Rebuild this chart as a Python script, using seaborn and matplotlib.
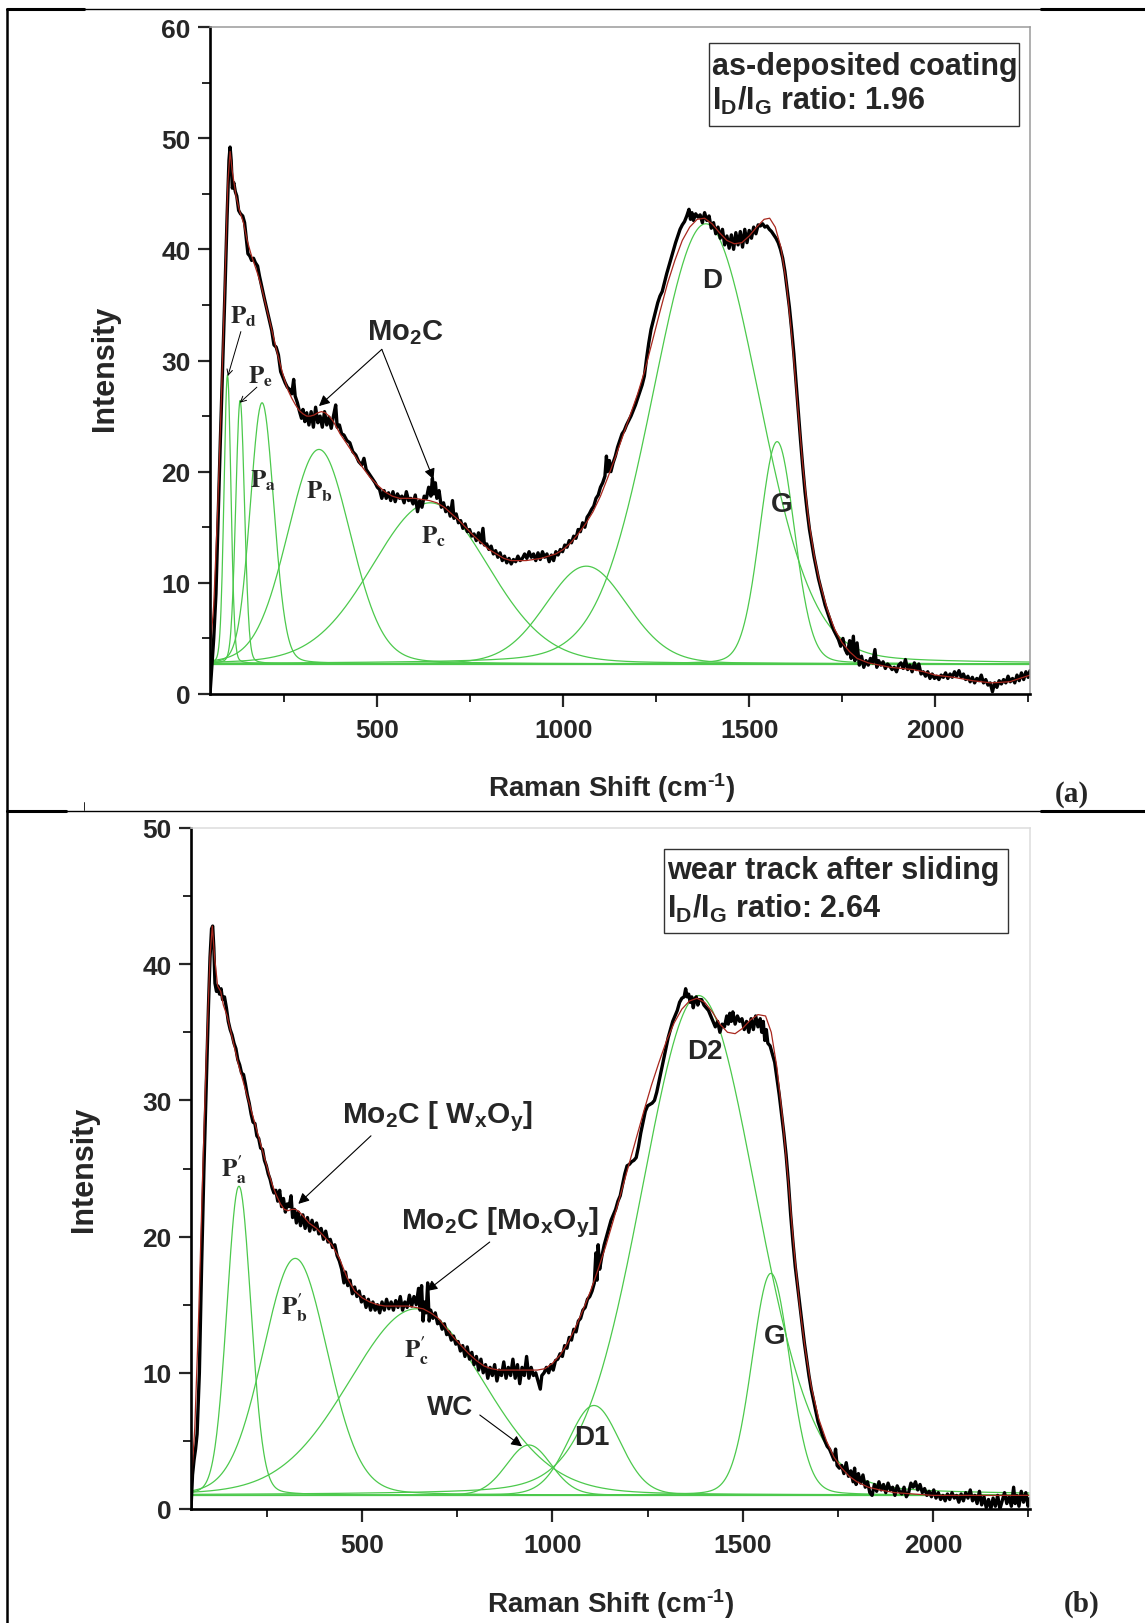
"""Raman spectra with peak deconvolution: as-deposited coating (a) and wear track (b)."""
import matplotlib
matplotlib.use("Agg")
import matplotlib.pyplot as plt
from matplotlib.lines import Line2D
from matplotlib.patches import Rectangle
import numpy as np
import seaborn as sns

FIG_W, FIG_H = 1145, 1624

# ---------------------------------------------------------------- data (a)
spectrum_a = [
    (50, 0.0), (55, 2.5), (60, 5.0), (66, 9.0), (72, 16.0), (78, 23.0), (84, 29.5),
    (90, 36.0), (96, 43.0), (101, 48.0), (104, 49.2), (107, 48.0), (110, 45.5),
    (114, 46.0), (118, 45.2), (122, 44.8), (127, 43.5), (132, 43.2), (138, 43.0),
    (143, 42.4), (148, 40.8), (152, 39.6), (157, 39.4), (162, 39.0), (167, 39.2),
    (172, 38.8), (178, 38.5), (183, 37.6), (190, 36.5), (196, 35.6), (203, 34.6),
    (210, 33.6), (216, 32.7), (222, 31.4), (228, 31.2), (234, 30.5), (240, 29.0),
    (246, 28.5), (252, 28.0), (258, 27.6), (264, 27.4), (270, 27.0), (275, 28.3),
    (279, 26.8), (285, 26.2), (290, 25.5), (296, 24.8), (300, 25.6), (305, 24.5),
    (310, 25.3), (316, 24.2), (322, 25.4), (328, 24.0), (334, 25.8), (340, 24.4),
    (346, 25.0), (352, 24.0), (358, 25.4), (364, 24.2), (370, 24.9), (376, 23.9),
    (382, 25.0), (388, 26.0), (392, 24.0), (398, 24.2), (404, 23.4), (410, 23.3),
    (418, 22.8), (426, 22.6), (434, 21.8), (442, 21.5), (450, 20.9), (458, 20.6),
    (464, 21.2), (470, 20.2), (478, 19.8), (486, 19.4), (494, 19.0), (500, 18.6),
    (506, 18.4), (512, 17.6), (518, 18.3), (524, 17.6), (530, 18.1), (536, 17.4),
    (542, 18.2), (548, 17.3), (554, 18.0), (560, 17.6), (566, 17.8), (572, 17.2),
    (578, 18.2), (584, 17.4), (590, 17.6), (596, 17.1), (602, 17.9), (608, 16.4),
    (614, 17.4), (620, 16.8), (626, 17.8), (632, 17.6), (638, 18.6), (644, 17.8),
    (648, 19.4), (652, 18.0), (656, 19.0), (660, 17.6), (666, 18.3), (672, 16.8),
    (678, 17.2), (684, 16.4), (690, 16.8), (696, 16.0), (702, 17.4), (706, 15.8),
    (712, 16.2), (718, 15.4), (724, 15.6), (730, 14.9), (736, 15.3), (742, 14.6),
    (748, 14.8), (754, 14.2), (760, 14.4), (766, 13.8), (772, 14.5), (778, 13.6),
    (784, 14.9), (788, 13.4), (794, 13.5), (800, 13.0), (806, 13.3), (812, 12.6),
    (818, 12.9), (824, 12.3), (830, 12.7), (836, 12.0), (842, 12.4), (848, 11.8),
    (854, 12.2), (860, 11.7), (866, 12.1), (872, 11.9), (878, 12.4), (884, 12.0),
    (890, 12.2), (896, 12.6), (902, 12.2), (908, 12.8), (914, 12.3), (920, 12.6),
    (926, 12.0), (932, 12.7), (938, 12.1), (944, 12.8), (950, 12.3), (956, 12.6),
    (962, 11.9), (968, 12.5), (974, 12.0), (980, 12.8), (986, 12.5), (992, 13.0),
    (998, 12.8), (1004, 13.4), (1010, 13.2), (1016, 13.8), (1022, 13.6), (1028, 14.2),
    (1034, 14.0), (1040, 14.8), (1046, 14.6), (1052, 15.4), (1058, 15.0), (1064, 15.9),
    (1070, 16.2), (1076, 16.6), (1082, 16.9), (1088, 17.6), (1094, 17.9), (1100, 18.6),
    (1106, 19.0), (1112, 19.6), (1116, 21.4), (1119, 20.0), (1124, 21.0), (1128, 20.0),
    (1134, 20.8), (1140, 21.4), (1146, 22.2), (1152, 22.8), (1158, 23.4), (1164, 23.7),
    (1170, 24.2), (1176, 24.6), (1182, 25.0), (1188, 25.5), (1194, 26.0), (1200, 26.6),
    (1206, 27.2), (1212, 27.8), (1218, 28.6), (1224, 30.2), (1230, 31.6), (1236, 32.8),
    (1242, 33.6), (1248, 34.4), (1254, 35.2), (1260, 35.8), (1266, 36.2), (1272, 37.0),
    (1278, 37.8), (1284, 38.5), (1290, 39.2), (1296, 39.9), (1302, 40.6), (1308, 41.2),
    (1314, 41.8), (1320, 42.2), (1326, 42.5), (1332, 43.0), (1338, 43.6), (1342, 42.7),
    (1346, 43.3), (1350, 42.6), (1356, 43.2), (1362, 42.9), (1368, 43.1), (1374, 42.4),
    (1380, 43.3), (1386, 42.6), (1392, 43.0), (1398, 41.9), (1404, 42.4), (1410, 41.4),
    (1416, 42.0), (1422, 41.0), (1428, 41.8), (1434, 40.4), (1440, 41.2), (1446, 40.1),
    (1452, 41.3), (1458, 40.0), (1464, 41.5), (1470, 40.4), (1476, 41.6), (1482, 40.2),
    (1488, 41.8), (1494, 40.6), (1500, 41.7), (1506, 41.0), (1512, 42.0), (1518, 41.4),
    (1524, 42.2), (1530, 42.1), (1536, 42.3), (1542, 42.0), (1548, 42.1), (1554, 41.8),
    (1560, 41.6), (1566, 41.3), (1572, 41.0), (1578, 40.6), (1584, 40.0), (1590, 39.2),
    (1596, 38.0), (1602, 36.4), (1608, 34.8), (1614, 32.8), (1620, 30.6), (1626, 28.0),
    (1632, 25.4), (1638, 22.8), (1644, 20.4), (1650, 18.2), (1656, 16.4), (1662, 14.8),
    (1668, 13.6), (1674, 12.4), (1680, 11.4), (1686, 10.4), (1692, 9.6), (1698, 8.8),
    (1704, 8.0), (1710, 7.4), (1716, 6.8), (1722, 6.2), (1728, 5.7), (1734, 5.3),
    (1740, 4.9), (1746, 4.3), (1752, 5.0), (1758, 4.0), (1764, 3.6), (1770, 4.8),
    (1774, 3.2), (1780, 5.2), (1784, 3.0), (1790, 4.6), (1796, 2.6), (1802, 3.4),
    (1808, 2.4), (1814, 3.0), (1820, 2.6), (1826, 3.2), (1832, 2.8), (1838, 4.0),
    (1843, 2.4), (1848, 3.0), (1854, 2.6), (1860, 2.9), (1866, 2.3), (1872, 2.7),
    (1878, 2.5), (1884, 2.2), (1890, 2.4), (1896, 2.0), (1902, 2.6), (1908, 2.8),
    (1914, 2.3), (1920, 3.1), (1926, 2.2), (1932, 2.6), (1938, 2.0), (1944, 2.8),
    (1950, 2.2), (1956, 2.7), (1962, 1.8), (1968, 2.0), (1974, 1.6), (1980, 2.0),
    (1986, 1.4), (1992, 1.8), (1998, 1.4), (2004, 1.6), (2010, 1.3), (2016, 1.7),
    (2022, 1.5), (2028, 1.9), (2034, 1.4), (2040, 1.8), (2046, 1.5), (2052, 2.0),
    (2058, 1.6), (2064, 2.1), (2070, 1.5), (2076, 1.8), (2082, 1.3), (2088, 1.6),
    (2094, 1.1), (2100, 1.5), (2106, 1.0), (2112, 1.4), (2118, 1.2), (2124, 1.7),
    (2130, 1.0), (2136, 1.3), (2142, 0.8), (2148, 1.0), (2154, 0.2), (2160, 1.0),
    (2166, 0.6), (2172, 1.2), (2178, 0.9), (2184, 1.3), (2190, 1.0), (2196, 1.6),
    (2202, 1.1), (2208, 1.4), (2214, 1.0), (2220, 1.7), (2226, 1.2), (2232, 1.9),
    (2238, 1.3), (2244, 2.0), (2250, 1.5), (2255, 2.1),
]

# cumulative fit curve (red)
fit_a = [
    (50, 3.7), (60, 8.0), (70, 16.0), (80, 26.0), (90, 37.0), (98, 46.0), (104, 48.8),
    (110, 47.0), (120, 44.8), (130, 43.4), (140, 42.4), (150, 40.8), (160, 39.6),
    (170, 38.6), (180, 37.6), (190, 36.4), (200, 35.0), (210, 33.6), (220, 32.2),
    (230, 30.8), (240, 29.5), (250, 28.3), (260, 27.3), (270, 26.6), (280, 26.0),
    (290, 25.5), (300, 25.2), (310, 25.0), (320, 25.0), (330, 25.1), (340, 25.3),
    (350, 25.4), (360, 25.3), (370, 25.0), (380, 24.6), (390, 24.0), (400, 23.4),
    (420, 22.4), (440, 21.4), (460, 20.4), (480, 19.5), (500, 18.8), (520, 18.2),
    (540, 17.8), (560, 17.6), (580, 17.6), (600, 17.6), (620, 17.5), (640, 17.4),
    (660, 17.2), (680, 16.8), (700, 16.2), (720, 15.6), (740, 14.9), (760, 14.2),
    (780, 13.6), (800, 13.0), (820, 12.6), (840, 12.2), (860, 12.0), (880, 12.0),
    (900, 12.0), (920, 12.1), (940, 12.2), (960, 12.4), (980, 12.6), (1000, 13.0),
    (1020, 13.6), (1040, 14.4), (1060, 15.3), (1080, 16.4), (1100, 17.8), (1120, 19.5),
    (1140, 21.3), (1160, 23.2), (1180, 25.1), (1200, 27.0), (1220, 29.2), (1240, 31.8),
    (1260, 34.4), (1280, 36.9), (1300, 39.0), (1320, 40.8), (1340, 42.0), (1360, 42.7),
    (1380, 42.8), (1400, 42.3), (1420, 41.5), (1440, 40.8), (1460, 40.5), (1480, 40.6),
    (1500, 41.2), (1520, 42.0), (1540, 42.7), (1555, 42.8), (1570, 42.0), (1585, 40.2),
    (1600, 37.0), (1615, 32.0), (1630, 26.0), (1645, 20.2), (1660, 15.6), (1675, 12.4),
    (1690, 10.0), (1710, 7.6), (1730, 5.8), (1750, 4.6), (1770, 3.8), (1790, 3.2),
    (1820, 2.8), (1850, 2.6), (1880, 2.4), (1910, 2.3), (1940, 2.2), (1970, 2.0),
    (2000, 1.7), (2050, 1.5), (2100, 1.2), (2150, 1.0), (2200, 1.1), (2255, 1.7),
]

# fitted components: centre (cm-1), height above baseline, FWHM (cm-1)
peak_centres_a = [97, 131, 190, 343, 642, 1062, 1383, 1575]
peak_heights_a = [26.0, 23.7, 23.5, 19.3, 14.5, 8.8, 39.6, 20.0]
peak_widths_a = [22, 28, 75, 200, 370, 260, 340, 110]
baseline_a = 2.7

# ---------------------------------------------------------------- data (b)
spectrum_b = [
    (50, 0.0), (54, 2.5), (58, 3.6), (62, 4.4), (66, 5.5), (72, 10.0), (78, 18.0),
    (84, 25.0), (90, 31.0), (96, 37.0), (100, 40.5), (104, 42.6), (107, 42.8),
    (110, 41.2), (113, 38.6), (117, 38.0), (121, 38.4), (125, 37.8), (129, 38.2),
    (133, 37.4), (138, 37.6), (143, 36.8), (148, 35.8), (153, 35.2), (158, 34.8),
    (163, 34.2), (168, 33.8), (173, 33.0), (178, 32.6), (183, 32.0), (188, 31.9),
    (193, 31.2), (198, 30.4), (203, 29.8), (208, 29.0), (213, 28.4), (218, 28.3),
    (223, 27.4), (228, 27.2), (233, 26.5), (238, 26.4), (243, 25.6), (248, 25.2),
    (253, 24.6), (258, 24.2), (263, 23.6), (268, 23.2), (273, 23.4), (278, 22.6),
    (283, 23.4), (288, 22.2), (293, 22.8), (298, 21.8), (303, 22.4), (308, 22.2),
    (313, 23.0), (317, 21.4), (322, 22.0), (327, 21.0), (332, 21.8), (338, 20.8),
    (344, 21.6), (350, 20.6), (356, 21.4), (362, 20.4), (368, 21.2), (374, 20.5),
    (380, 21.0), (386, 20.2), (392, 20.6), (398, 19.8), (404, 20.4), (410, 19.6),
    (416, 19.8), (422, 19.2), (428, 19.4), (434, 18.6), (440, 18.2), (446, 17.6),
    (452, 16.6), (456, 17.4), (462, 16.4), (468, 16.8), (474, 15.8), (480, 16.3),
    (486, 15.6), (492, 16.0), (498, 15.2), (504, 15.6), (510, 14.8), (516, 15.4),
    (522, 14.6), (528, 15.2), (534, 14.6), (540, 15.0), (546, 14.4), (552, 15.2),
    (558, 14.6), (564, 15.4), (570, 14.7), (576, 15.2), (582, 14.6), (588, 15.3),
    (594, 14.8), (600, 15.6), (606, 14.6), (612, 15.2), (618, 14.8), (624, 15.7),
    (630, 14.9), (636, 15.6), (642, 15.0), (648, 16.2), (652, 14.6), (656, 16.4),
    (660, 13.8), (664, 15.2), (668, 14.4), (672, 16.6), (676, 13.8), (680, 14.6),
    (686, 14.0), (692, 14.4), (698, 13.6), (704, 13.8), (710, 13.2), (716, 13.6),
    (722, 12.8), (728, 13.0), (734, 12.4), (740, 12.7), (746, 12.1), (752, 12.3),
    (758, 11.6), (764, 12.0), (770, 11.2), (776, 11.9), (782, 11.0), (788, 11.5),
    (794, 10.6), (800, 11.2), (806, 10.2), (812, 11.0), (818, 10.0), (824, 10.6),
    (830, 9.6), (836, 10.4), (842, 9.8), (848, 10.6), (854, 9.4), (860, 10.2),
    (866, 9.8), (872, 10.8), (878, 9.6), (884, 10.4), (890, 9.8), (896, 11.0),
    (902, 9.6), (908, 10.6), (914, 9.2), (920, 10.4), (926, 9.8), (932, 11.2),
    (938, 9.6), (944, 10.4), (950, 9.8), (956, 10.0), (962, 9.4), (968, 8.8),
    (972, 9.8), (978, 10.0), (984, 10.4), (990, 10.0), (996, 10.6), (1002, 10.2),
    (1008, 10.9), (1014, 11.0), (1020, 11.4), (1026, 11.2), (1032, 12.0), (1038, 11.8),
    (1044, 12.6), (1050, 12.4), (1056, 13.2), (1062, 13.0), (1068, 13.8), (1074, 14.0),
    (1080, 14.6), (1086, 14.8), (1092, 15.4), (1098, 15.6), (1104, 16.0), (1110, 16.6),
    (1114, 18.8), (1117, 16.8), (1120, 19.4), (1124, 17.6), (1130, 18.6), (1136, 19.4),
    (1142, 20.0), (1148, 20.6), (1154, 21.2), (1160, 21.6), (1166, 22.0), (1172, 22.6),
    (1178, 23.0), (1184, 23.8), (1190, 24.6), (1196, 25.2), (1202, 25.3), (1208, 25.5),
    (1214, 25.6), (1220, 25.8), (1226, 26.6), (1232, 27.6), (1238, 28.4), (1244, 29.2),
    (1250, 29.6), (1256, 29.7), (1262, 29.8), (1268, 30.0), (1274, 30.6), (1280, 31.4),
    (1286, 32.2), (1292, 33.0), (1298, 33.8), (1304, 34.6), (1310, 35.2), (1316, 35.8),
    (1322, 36.2), (1328, 36.6), (1334, 37.2), (1340, 37.5), (1346, 37.6), (1350, 38.2),
    (1354, 37.6), (1358, 37.8), (1362, 37.2), (1366, 37.6), (1370, 36.8), (1374, 37.4),
    (1378, 37.6), (1382, 37.0), (1386, 37.4), (1392, 37.4), (1398, 37.0), (1404, 36.8),
    (1410, 36.6), (1416, 36.2), (1422, 35.8), (1428, 35.4), (1434, 35.8), (1440, 35.0),
    (1446, 35.6), (1452, 35.4), (1458, 36.2), (1462, 35.6), (1466, 36.4), (1470, 35.8),
    (1474, 36.5), (1480, 35.6), (1486, 36.2), (1492, 35.8), (1498, 36.0), (1504, 35.2),
    (1510, 35.8), (1516, 35.0), (1522, 36.0), (1528, 35.2), (1534, 36.2), (1540, 35.4),
    (1546, 36.0), (1550, 35.0), (1554, 35.8), (1558, 34.4), (1562, 35.2), (1566, 34.2),
    (1572, 34.0), (1578, 33.4), (1584, 32.8), (1590, 31.6), (1596, 30.4), (1602, 29.0),
    (1608, 27.6), (1614, 26.0), (1620, 24.0), (1626, 21.6), (1632, 19.6), (1638, 17.8),
    (1644, 16.4), (1650, 15.0), (1656, 13.6), (1662, 12.2), (1668, 11.0), (1674, 9.8),
    (1680, 8.8), (1686, 8.0), (1692, 7.2), (1698, 6.4), (1704, 5.9), (1710, 5.4),
    (1716, 5.0), (1722, 4.6), (1728, 4.4), (1734, 4.0), (1740, 3.6), (1744, 4.4),
    (1748, 3.2), (1754, 3.0), (1760, 3.2), (1766, 2.6), (1772, 3.4), (1778, 2.4),
    (1784, 2.8), (1790, 2.0), (1794, 3.0), (1798, 1.8), (1804, 2.6), (1810, 1.9),
    (1816, 2.5), (1822, 1.6), (1828, 2.0), (1834, 1.2), (1840, 1.0), (1846, 1.8),
    (1852, 1.3), (1858, 2.0), (1864, 1.4), (1870, 1.8), (1876, 1.2), (1882, 1.9),
    (1888, 1.4), (1894, 1.6), (1900, 1.0), (1906, 1.7), (1912, 1.3), (1918, 1.1),
    (1924, 1.6), (1930, 0.9), (1936, 1.2), (1942, 1.9), (1948, 1.6), (1954, 2.0),
    (1960, 1.4), (1966, 1.8), (1972, 1.2), (1978, 1.5), (1984, 1.0), (1990, 1.3),
    (1996, 0.9), (2002, 1.4), (2008, 0.8), (2014, 1.2), (2020, 0.7), (2026, 1.0),
    (2032, 0.6), (2038, 1.1), (2044, 0.7), (2050, 1.2), (2056, 0.8), (2062, 1.0),
    (2068, 0.5), (2074, 1.1), (2080, 0.6), (2086, 1.2), (2092, 0.8), (2098, 1.4),
    (2104, 0.6), (2110, 1.0), (2116, 0.4), (2122, 1.3), (2128, 0.3), (2134, 0.9),
    (2140, 0.1), (2146, 0.7), (2152, 0.0), (2158, 0.8), (2164, 0.2), (2170, 1.0),
    (2176, 0.0), (2182, 0.6), (2188, 1.2), (2194, 0.4), (2200, 0.9), (2206, 0.2),
    (2212, 1.6), (2216, 0.4), (2220, 1.0), (2226, 0.2), (2232, 1.3), (2238, 0.5),
    (2244, 1.2), (2250, 0.2), (2255, 0.8),
]

fit_b = [
    (50, 1.5), (60, 6.0), (70, 14.0), (80, 24.0), (90, 33.0), (100, 40.6), (106, 42.8),
    (112, 40.5), (120, 38.4), (128, 38.0), (135, 37.0), (145, 36.2), (155, 35.0),
    (165, 33.8), (175, 32.6), (185, 31.6), (195, 30.6), (205, 29.6), (215, 28.6),
    (225, 27.6), (235, 26.6), (245, 25.6), (255, 24.6), (265, 23.7), (275, 23.0),
    (285, 22.4), (295, 22.0), (305, 21.9), (315, 22.0), (325, 22.0), (335, 21.8),
    (345, 21.5), (360, 21.0), (380, 20.6), (400, 20.0), (420, 19.4), (440, 18.4),
    (460, 17.0), (480, 16.0), (500, 15.5), (520, 15.2), (540, 15.0), (560, 14.9),
    (580, 14.9), (600, 14.9), (620, 14.9), (640, 14.8), (660, 14.7), (680, 14.4),
    (700, 14.0), (720, 13.3), (740, 12.6), (760, 12.0), (780, 11.4), (800, 10.9),
    (820, 10.5), (840, 10.3), (860, 10.2), (880, 10.2), (900, 10.2), (920, 10.2),
    (940, 10.2), (960, 10.2), (980, 10.3), (1000, 10.7), (1020, 11.3), (1040, 12.2),
    (1060, 13.3), (1080, 14.6), (1100, 16.0), (1120, 17.6), (1140, 19.3), (1160, 21.2),
    (1180, 23.2), (1200, 25.2), (1220, 27.2), (1240, 29.2), (1260, 31.1), (1280, 32.8),
    (1300, 34.4), (1320, 35.7), (1340, 36.7), (1360, 37.3), (1380, 37.5), (1400, 37.2),
    (1420, 36.5), (1440, 35.6), (1460, 35.0), (1480, 34.9), (1500, 35.3), (1520, 35.9),
    (1540, 36.3), (1560, 36.2), (1575, 35.0), (1590, 32.4), (1605, 28.6), (1620, 24.0),
    (1635, 19.0), (1650, 14.8), (1665, 11.6), (1680, 9.0), (1700, 6.6), (1720, 5.0),
    (1740, 3.8), (1760, 3.0), (1780, 2.4), (1800, 2.0), (1830, 1.6), (1860, 1.4),
    (1900, 1.2), (1950, 1.1), (2000, 1.0), (2100, 1.0), (2200, 1.0), (2255, 1.0),
]

peak_centres_b = [176, 324, 642, 938, 1109, 1384, 1574]
peak_heights_b = [22.7, 17.4, 13.7, 3.7, 6.6, 36.7, 16.3]
peak_widths_b = [75, 200, 420, 140, 160, 355, 118]
baseline_b = 1.0

x_limits = (50, 2255)
x_major = [500, 1000, 1500, 2000]
x_minor = [250, 750, 1250, 1750, 2250]

BLACK = "#000000"
RED = "#a8281e"
GREEN = "#4cc94c"


def pseudo_voigt(x, centre, height, fwhm, eta=0.12):
    """Fitted line shape: mostly Gaussian with a little Lorentzian tail."""
    d2 = 4.0 * (x - centre) ** 2 / fwhm ** 2
    return height * (eta / (1.0 + d2) + (1.0 - eta) * np.exp(-np.log(2.0) * d2))


def add_axes_px(fig, left, top, right, bottom):
    """Axes placed by pixel edges of the 1145x1624 canvas."""
    return fig.add_axes([left / FIG_W, 1 - bottom / FIG_H,
                         (right - left) / FIG_W, (bottom - top) / FIG_H])


def draw_panel(ax, spectrum, fit, centres, heights, widths, baseline,
               ymax, frame_colour):
    grid = np.linspace(x_limits[0], x_limits[1], 1500)
    for c, h, w in zip(centres, heights, widths):
        sns.lineplot(x=grid, y=baseline + pseudo_voigt(grid, c, h, w), ax=ax,
                     color=GREEN, lw=0.9, estimator=None, sort=False)
    ax.axhline(baseline, color=GREEN, lw=0.9)

    sx, sy = zip(*spectrum)
    sns.lineplot(x=list(sx), y=list(sy), ax=ax, color=BLACK, lw=2.4,
                 estimator=None, sort=False)
    fx, fy = zip(*fit)
    sns.lineplot(x=list(fx), y=list(fy), ax=ax, color=RED, lw=0.9,
                 estimator=None, sort=False)

    ax.set_xlim(*x_limits)
    ax.set_ylim(0, ymax)
    ax.set_xticks(x_major)
    ax.set_xticks(x_minor, minor=True)
    ax.set_yticks(np.arange(0, ymax + 1, 10))
    ax.set_yticks(np.arange(5, ymax, 10), minor=True)
    ax.tick_params(which="major", direction="out", length=9, width=1.6,
                   labelsize=19, pad=5)
    ax.tick_params(which="minor", direction="out", length=5.5, width=1.4)
    ax.tick_params(axis="x", which="major", pad=8)
    for lbl in ax.get_xticklabels() + ax.get_yticklabels():
        lbl.set_fontweight("bold")

    for side in ("left", "bottom"):
        ax.spines[side].set_linewidth(1.9)
        ax.spines[side].set_color(BLACK)
    for side in ("top", "right"):
        ax.spines[side].set_linewidth(1.1)
        ax.spines[side].set_color(frame_colour)

    ax.set_xlabel(r"Raman Shift (cm$^{\text{-1}}$)", fontsize=20, fontweight="bold")
    ax.set_ylabel("Intensity", fontsize=22, fontweight="bold")


def arrow(ax, start, end, style="-|>", lw=0.8, scale=16):
    ax.annotate("", xy=end, xytext=start,
                arrowprops=dict(arrowstyle=style, color=BLACK, lw=lw,
                                mutation_scale=scale, shrinkA=0, shrinkB=0))


sns.set_theme(style="ticks")
plt.rcParams["font.family"] = ["Liberation Sans", "DejaVu Sans"]
plt.rcParams["mathtext.fontset"] = "custom"
plt.rcParams["mathtext.rm"] = "Liberation Sans:bold"
plt.rcParams["mathtext.bf"] = "Liberation Sans:bold"
plt.rcParams["mathtext.it"] = "Liberation Sans:bold"
plt.rcParams["mathtext.default"] = "bf"

fig = plt.figure(figsize=(FIG_W / 100, FIG_H / 100), dpi=100)
fig.patch.set_facecolor("white")

# ------------------------------------------------------------ panel (a)
ax_a = add_axes_px(fig, 210, 28, 1030, 695)
draw_panel(ax_a, spectrum_a, fit_a, peak_centres_a, peak_heights_a,
           peak_widths_a, baseline_a, 60, "#9a9a9a")
ax_a.xaxis.set_label_coords(0.49, -0.114)
ax_a.yaxis.set_label_coords(-0.11, 0.49)

ax_a.add_patch(Rectangle((1393, 51.1), 2225 - 1393, 58.6 - 51.1, fill=False,
                         ec="#333333", lw=1.0, zorder=5))
ax_a.text(1400, 55.8, "as-deposited coating", fontsize=22, fontweight="bold",
          va="baseline", zorder=6)
ax_a.text(1400, 52.6, r"I$_D$/I$_G$ ratio: 1.96", fontsize=22,
          fontweight="bold", va="baseline", zorder=6)

serif = dict(math_fontfamily="stix", fontsize=18, ha="center", va="center")
ax_a.text(139, 34.0, r"$P_d$", **serif)
ax_a.text(187, 28.6, r"$P_e$", **serif)
ax_a.text(194, 19.3, r"$P_a$", **serif)
ax_a.text(343, 18.3, r"$P_b$", **serif)
ax_a.text(651, 14.2, r"$P_c$", **serif)
arrow(ax_a, (133, 32.6), (98, 28.6), style="->", lw=0.7, scale=10)
arrow(ax_a, (176, 27.6), (130, 26.2), style="->", lw=0.7, scale=10)

ax_a.text(574, 32.6, r"Mo$_2$C", fontsize=21, fontweight="bold",
          ha="center", va="center")
arrow(ax_a, (512, 31.0), (343, 25.9))
arrow(ax_a, (512, 31.0), (651, 19.3))
ax_a.text(1399, 37.2, "D", fontsize=20, fontweight="bold", ha="center", va="center")
ax_a.text(1587, 17.1, "G", fontsize=20, fontweight="bold", ha="center", va="center")

# ------------------------------------------------------------ panel (b)
ax_b = add_axes_px(fig, 191, 829, 1030, 1510)
draw_panel(ax_b, spectrum_b, fit_b, peak_centres_b, peak_heights_b,
           peak_widths_b, baseline_b, 50, "#dddddd")
ax_b.xaxis.set_label_coords(0.5, -0.113)
ax_b.yaxis.set_label_coords(-0.11, 0.5)

ax_b.add_patch(Rectangle((1293, 42.3), 2196 - 1293, 48.46 - 42.3, fill=False,
                         ec="#333333", lw=1.0, zorder=5))
ax_b.text(1300, 46.3, "wear track after sliding", fontsize=22,
          fontweight="bold", va="baseline", zorder=6)
ax_b.text(1300, 43.5, r"I$_D$/I$_G$ ratio: 2.64", fontsize=22,
          fontweight="bold", va="baseline", zorder=6)

ax_b.text(163, 25.0, r"$P_a^{\prime}$", **serif)
ax_b.text(322, 14.9, r"$P_b^{\prime}$", **serif)
ax_b.text(644, 11.7, r"$P_c^{\prime}$", **serif)

ax_b.text(699, 28.9, r"Mo$_2$C [ W$_x$O$_y$]", fontsize=21.5, fontweight="bold",
          ha="center", va="center")
arrow(ax_b, (523, 27.4), (332, 22.4))
ax_b.text(863, 21.1, r"Mo$_2$C [Mo$_x$O$_y$]", fontsize=21.5, fontweight="bold",
          ha="center", va="center")
arrow(ax_b, (835, 19.6), (669, 16.0))
ax_b.text(732, 7.5, "WC", fontsize=20, fontweight="bold", ha="center", va="center")
arrow(ax_b, (809, 6.9), (920, 4.6))
ax_b.text(1103, 5.3, "D1", fontsize=20, fontweight="bold", ha="center", va="center")
ax_b.text(1400, 33.6, "D2", fontsize=20, fontweight="bold", ha="center", va="center")
ax_b.text(1583, 12.7, "G", fontsize=20, fontweight="bold", ha="center", va="center")

# ------------------------------------------------------------ table frame
def frame_line(x0, y0, x1, y1, lw):
    fig.add_artist(Line2D([x0 / FIG_W, x1 / FIG_W], [1 - y0 / FIG_H, 1 - y1 / FIG_H],
                          color=BLACK, lw=lw, transform=fig.transFigure))


frame_line(7, 10, 7, FIG_H, 1.8)
frame_line(7, 10, FIG_W, 10, 1.0)
frame_line(7, 10, 84, 10, 2.2)
frame_line(1041, 10, FIG_W, 10, 2.2)
frame_line(7, 812, FIG_W, 812, 1.0)
frame_line(7, 812, 66, 812, 2.2)
frame_line(1041, 812, FIG_W, 812, 2.2)
frame_line(84, 803, 84, 811, 0.6)

fig.text(1072 / FIG_W, 1 - 795 / FIG_H, "(a)", family=["Liberation Serif", "DejaVu Serif"],
         fontsize=21, fontweight="bold", ha="center", va="center")
fig.text(1082 / FIG_W, 1 - 1604 / FIG_H, "(b)", family=["Liberation Serif", "DejaVu Serif"],
         fontsize=21, fontweight="bold", ha="center", va="center")

fig.savefig("out.png", dpi=100, facecolor="white")
